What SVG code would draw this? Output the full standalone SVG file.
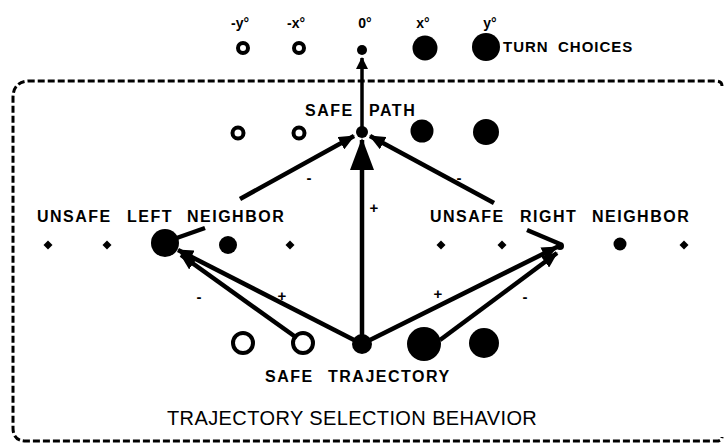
<svg xmlns="http://www.w3.org/2000/svg" width="724" height="443" viewBox="0 0 724 443">
  <style>
    .bg { fill: #ffffff; }
    .frame { fill: none; stroke: #000; stroke-width: 3; stroke-dasharray: 7 3; }
    .ring { fill: #ffffff; stroke: #000; stroke-width: 4; }
    .dot { fill: #000; }
    .edge { stroke: #000; stroke-width: 4.5; fill: none; stroke-linecap: butt; }
    .thin { stroke-width: 3.5; }
    .lbl { font-family: "Liberation Sans", Arial, Helvetica, sans-serif; font-weight: bold; font-size: 16px; letter-spacing: 1.5px; fill: #000; }
    .turn { font-size: 15px; letter-spacing: 1px; }
    .deg { font-family: "Liberation Sans", Arial, Helvetica, sans-serif; font-weight: bold; font-size: 14px; fill: #000; text-anchor: middle; }
    .sign { font-family: "Liberation Sans", Arial, Helvetica, sans-serif; font-weight: bold; font-size: 15px; fill: #000; text-anchor: middle; }
    .title { font-family: "Liberation Sans", Arial, Helvetica, sans-serif; font-size: 20px; letter-spacing: 0.4px; fill: #000; }
  </style>
  <defs>
    <marker id="arrow" viewBox="0 0 16 14" refX="15" refY="7" markerWidth="16" markerHeight="14" markerUnits="userSpaceOnUse" orient="auto">
      <path d="M0,0 L16,7 L0,14 Z" fill="#000"/>
    </marker>
    <marker id="arrowBig" viewBox="0 0 32 24" refX="30" refY="12" markerWidth="32" markerHeight="24" markerUnits="userSpaceOnUse" orient="auto">
      <path d="M0,0 L32,12 L0,24 Z" fill="#000"/>
    </marker>
    <marker id="arrowSmall" viewBox="0 0 12 12" refX="11" refY="6" markerWidth="12" markerHeight="12" markerUnits="userSpaceOnUse" orient="auto">
      <path d="M0,0 L12,6 L0,12 Z" fill="#000"/>
    </marker>
  </defs>

  <rect class="bg" x="0" y="0" width="724" height="443"/>

  <!-- behaviour frame (dashed, right side runs off the page) -->
  <path class="frame" d="M722,86 Q722,81 716,81 L30,81 Q13,81 13,98 L13,428 Q13,441 26,441 L716,441 Q722,441 722,437"/>

  <!-- turn choices -->
  <g id="turn-choices">
    <text class="deg" x="240" y="28">-y°</text>
    <text class="deg" x="296" y="28">-x°</text>
    <text class="deg" x="365" y="28">0°</text>
    <text class="deg" x="423" y="28">x°</text>
    <text class="deg" x="490" y="28">y°</text>
    <text class="lbl turn" x="503" y="52"><tspan x="503">TURN </tspan><tspan x="558">CHOICES</tspan></text>
  </g>
  <g id="turn-neg-y"><circle class="ring" cx="243" cy="48" r="5"/></g>
  <g id="turn-neg-x"><circle class="ring" cx="299" cy="48" r="5"/></g>
  <g id="turn-zero"><circle class="dot" cx="362" cy="50" r="5"/></g>
  <g id="turn-x"><circle class="dot" cx="425" cy="48" r="12.5"/></g>
  <g id="turn-y"><circle class="dot" cx="486" cy="47" r="14"/></g>

  <!-- safe path layer -->
  <g id="safe-path">
    <text class="lbl" x="305" y="116"><tspan x="305">SAFE </tspan><tspan x="369">PATH</tspan></text>
    <circle class="dot" cx="362" cy="132" r="6"/>
  </g>
  <g id="path-neg-y"><circle class="ring" cx="238" cy="133" r="5.5"/></g>
  <g id="path-neg-x"><circle class="ring" cx="299" cy="133" r="5.5"/></g>
  <g id="path-x"><circle class="dot" cx="422" cy="131" r="11.5"/></g>
  <g id="path-y"><circle class="dot" cx="486" cy="132" r="13"/></g>

  <!-- unsafe left neighbour layer -->
  <g id="left-neighbor">
    <text class="lbl" x="37" y="222"><tspan x="37">UNSAFE </tspan><tspan x="127">LEFT </tspan><tspan x="187">NEIGHBOR</tspan></text>
    <circle class="dot" cx="165" cy="243" r="14"/>
  </g>
  <g id="left-1"><path class="dot" d="M48,240.5 L52.5,245 L48,249.5 L43.5,245 Z"/></g>
  <g id="left-2"><path class="dot" d="M107,240.5 L111.5,245 L107,249.5 L102.5,245 Z"/></g>
  <g id="left-4"><circle class="dot" cx="228" cy="245" r="9"/></g>
  <g id="left-5"><path class="dot" d="M290,240.5 L294.5,245 L290,249.5 L285.5,245 Z"/></g>

  <!-- unsafe right neighbour layer -->
  <g id="right-neighbor">
    <text class="lbl" x="430" y="222"><tspan x="430">UNSAFE </tspan><tspan x="520">RIGHT </tspan><tspan x="592">NEIGHBOR</tspan></text>
    <circle class="dot" cx="560" cy="246" r="4"/>
  </g>
  <g id="right-1"><path class="dot" d="M441,240.5 L445.5,245 L441,249.5 L436.5,245 Z"/></g>
  <g id="right-2"><path class="dot" d="M502,240.5 L506.5,245 L502,249.5 L497.5,245 Z"/></g>
  <g id="right-4"><circle class="dot" cx="620" cy="244" r="6.5"/></g>
  <g id="right-5"><path class="dot" d="M684,240.5 L688.5,245 L684,249.5 L679.5,245 Z"/></g>

  <!-- safe trajectory layer -->
  <g id="safe-trajectory">
    <text class="lbl" x="265" y="382"><tspan x="265">SAFE </tspan><tspan x="328">TRAJECTORY</tspan></text>
    <circle class="dot" cx="362" cy="344" r="10"/>
  </g>
  <g id="traj-neg-y"><circle class="ring" cx="243" cy="343" r="10"/></g>
  <g id="traj-neg-x"><circle class="ring" cx="303" cy="343" r="10"/></g>
  <g id="traj-x"><circle class="dot" cx="424" cy="344" r="17"/></g>
  <g id="traj-y"><circle class="dot" cx="484" cy="343" r="15"/></g>

  <!-- connectors -->
  <g id="connectors">
    <line class="edge thin" x1="362" y1="128" x2="362" y2="58" marker-end="url(#arrowSmall)"/>
    <line class="edge" x1="362" y1="336" x2="362" y2="140" marker-end="url(#arrowBig)"/>
    <line class="edge" x1="171" y1="240" x2="205" y2="228"/>
    <line class="edge" x1="240" y1="199" x2="354" y2="136" marker-end="url(#arrow)"/>
    <line class="edge" x1="494" y1="203" x2="370" y2="136" marker-end="url(#arrow)"/>
    <line class="edge" x1="527" y1="230" x2="560" y2="244"/>
    <line class="edge" x1="356" y1="341" x2="178" y2="250" marker-end="url(#arrow)"/>
    <line class="edge" x1="297" y1="338" x2="181" y2="255" marker-end="url(#arrow)"/>
    <line class="edge" x1="368" y1="341" x2="557" y2="247" marker-end="url(#arrow)"/>
    <line class="edge" x1="440" y1="340" x2="557" y2="253" marker-end="url(#arrow)"/>
  </g>

  <!-- link signs -->
  <g id="signs">
    <text class="sign" x="309" y="183">-</text>
    <text class="sign" x="459" y="183">-</text>
    <text class="sign" x="374" y="213">+</text>
    <text class="sign" x="282" y="301">+</text>
    <text class="sign" x="199" y="302">-</text>
    <text class="sign" x="438" y="299">+</text>
    <text class="sign" x="525" y="302">-</text>
  </g>

  <text class="title" x="167" y="425">TRAJECTORY SELECTION BEHAVIOR</text>
</svg>
